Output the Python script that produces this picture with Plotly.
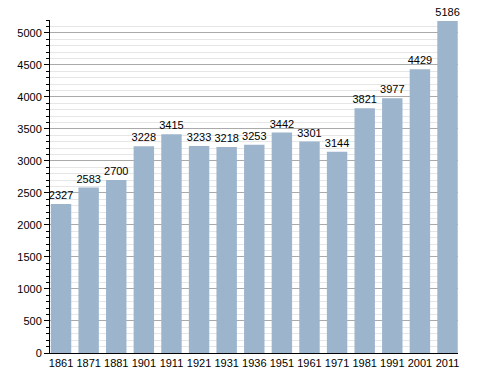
import plotly.graph_objects as go

years = ["1861", "1871", "1881", "1901", "1911", "1921", "1931", "1936",
         "1951", "1961", "1971", "1981", "1991", "2001", "2011"]
population = [2327, 2583, 2700, 3228, 3415, 3233, 3218, 3253,
              3442, 3301, 3144, 3821, 3977, 4429, 5186]

fig = go.Figure(go.Bar(
    x=years, y=population,
    marker=dict(color="#9db4cd", line=dict(width=0)),
    text=[str(v) for v in population],
    textposition="outside",
    constraintext="none",
    textfont=dict(family="Liberation Sans, Arial", size=11, color="#000"),
    cliponaxis=False,
))

fig.update_layout(
    width=488, height=373,
    margin=dict(l=50, r=30, t=20, b=20, autoexpand=False),
    paper_bgcolor="white", plot_bgcolor="white",
    bargap=0.26,
    showlegend=False,
    font=dict(family="Liberation Sans, Arial", size=11, color="#000"),
    xaxis=dict(
        type="category", automargin=False,
        range=[-0.4, 14.38],
        showline=True, linecolor="#000", linewidth=1,
        ticks="", showgrid=False,
        tickfont=dict(size=11),
    ),
    yaxis=dict(
        range=[0, 5200], automargin=False,
        tickvals=list(range(0, 5001, 500)),
        showline=True, linecolor="#000", linewidth=1,
        ticks="outside", ticklen=5, tickcolor="#000",
        showgrid=True, gridcolor="#aaaaaa", gridwidth=1,
        zeroline=False,
        tickfont=dict(size=11),
        minor=dict(dtick=100, tick0=0, ticks="outside", ticklen=3,
                   tickcolor="#000", showgrid=True, gridcolor="#e6e6e6",
                   gridwidth=1),
    ),
)

fig.write_html("out.html",
               config={"displayModeBar": False},
               post_script="document.body.style.margin='0';document.body.style.overflow='hidden';")
